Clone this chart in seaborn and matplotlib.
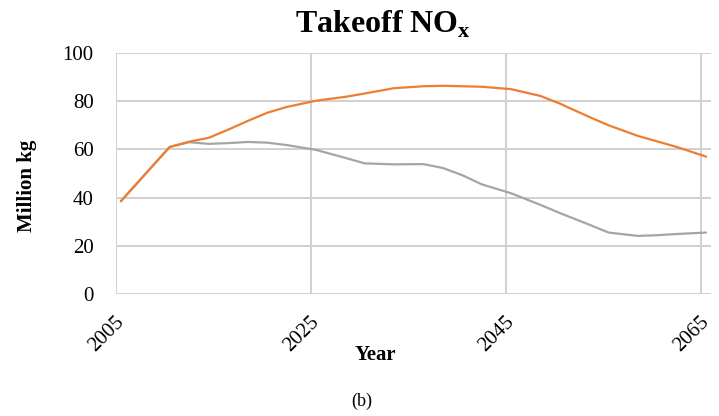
import matplotlib
matplotlib.use("Agg")
import matplotlib.pyplot as plt
import matplotlib.transforms as mtransforms
import pandas as pd
import seaborn as sns

YEARS = [2005, 2010, 2012, 2014, 2016, 2018, 2020, 2022, 2025, 2028, 2030, 2033,
         2036, 2038, 2040, 2042, 2045, 2048, 2050, 2053, 2055, 2058, 2060, 2062, 2065]
UPPER = [38.5, 61.0, 63.2, 64.8, 68.2, 71.8, 75.2, 77.6, 80.2, 81.8, 83.2, 85.4,
         86.2, 86.4, 86.2, 86.0, 85.0, 82.2, 79.0, 73.5, 70.0, 65.6, 63.3, 61.0, 57.0]
LOWER = [38.5, 61.0, 63.0, 62.3, 62.6, 63.1, 62.8, 61.8, 59.8, 56.5, 54.2, 53.8,
         53.9, 52.3, 49.3, 45.5, 41.8, 37.0, 33.6, 28.8, 25.5, 24.1, 24.4, 24.9, 25.5]
TICK_YEARS = [2005, 2025, 2045, 2065]
Y_TICKS = [0, 20, 40, 60, 80, 100]

PALETTE = {"upper": "#ED7D31", "lower": "#A5A5A5"}

df = pd.concat([
    pd.DataFrame({"year": YEARS, "value": UPPER, "series": "upper"}),
    pd.DataFrame({"year": YEARS, "value": LOWER, "series": "lower"}),
])

sns.set_style("white")
plt.rcParams["font.family"] = ["Liberation Serif", "DejaVu Serif"]
plt.rcParams["mathtext.fontset"] = "custom"
plt.rcParams["mathtext.rm"] = "Liberation Serif"
plt.rcParams["mathtext.bf"] = "Liberation Serif:bold"
plt.rcParams["text.color"] = "black"
plt.rcParams["xtick.color"] = "black"
plt.rcParams["ytick.color"] = "black"

fig = plt.figure(figsize=(7.19, 4.16), dpi=100)
ax = fig.add_axes([116 / 719, 1 - 294 / 416, (711 - 116) / 719, (294 - 53) / 416])

sns.lineplot(data=df, x="year", y="value", hue="series", palette=PALETTE,
             hue_order=["lower", "upper"], linewidth=1.6, legend=False, ax=ax)

# category-style axis: ticks sit on the boundaries between years
ax.set_xlim(2004.5, 2065.5)
ax.set_ylim(0, 100)
ax.set_xticks([y - 0.5 for y in TICK_YEARS])
ax.set_xticklabels([str(y) for y in TICK_YEARS])
ax.set_yticks(Y_TICKS)
ax.grid(True, color="#D0D0D0", linewidth=1.4)
for s in ax.spines.values():
    s.set_visible(False)
ax.tick_params(axis="both", length=0, labelsize=15, labelcolor="black")
ax.tick_params(axis="y", pad=16)
ax.tick_params(axis="x", pad=18)
ax.set_xlabel("")
ax.set_ylabel("")

offset = mtransforms.ScaledTranslation(5 / 100, 0, fig.dpi_scale_trans)
for lab in ax.get_xticklabels():
    lab.set_rotation(45)
    lab.set_rotation_mode("anchor")
    lab.set_ha("right")
    lab.set_va("center")
    lab.set_transform(lab.get_transform() + offset)

fig.text(383 / 719, 1 - 33 / 416, "Takeoff NO$_\\mathbf{x}$", ha="center", va="baseline",
         fontsize=23, fontweight="bold", color="black")
fig.text(27 / 719, 1 - 186 / 416, "Million kg", rotation=90, ha="center", va="center",
         fontsize=15, fontweight="bold", color="black")
fig.text(375 / 719, 1 - 355 / 416, "Year", ha="center", va="center",
         fontsize=15, fontweight="bold", color="black")
fig.text(362 / 719, 1 - 401 / 416, "(b)", ha="center", va="center", fontsize=13,
         color="black")

fig.savefig("out.png", dpi=100)
